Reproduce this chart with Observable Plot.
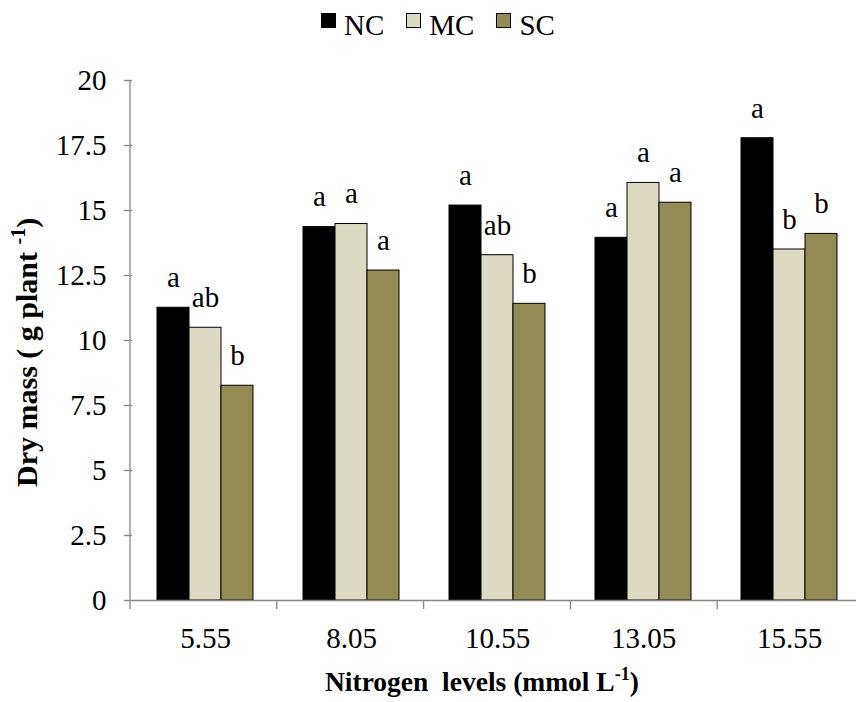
<!DOCTYPE html>
<html><head><meta charset="utf-8">
<script src="https://cdn.jsdelivr.net/npm/d3@7"></script>
<script src="https://cdn.jsdelivr.net/npm/@observablehq/plot@0.6"></script>
<style>
body{margin:0;background:#fff;font-family:"Liberation Serif","Times New Roman",serif;overflow:hidden}
#legend{height:45px;width:856px;box-sizing:border-box;padding-top:11px;padding-left:20px;display:flex;justify-content:center;align-items:flex-start}
.item{display:flex;align-items:flex-start;margin-right:22px}
.item:last-child{margin-right:0}
.sw{width:15px;height:15px;box-sizing:border-box;border:1px solid #000;margin-top:2px;margin-right:8px}
.lab{font-size:29px;line-height:29px;color:#000}
#chart svg{display:block}
</style></head><body>
<div id="legend"></div><div id="chart"></div>
<script>
const groups = ["5.55", "8.05", "10.55", "13.05", "15.55"];
const series = ["NC", "MC", "SC"];
const NC = [11.26, 14.36, 15.19, 13.95, 17.78];
const MC = [10.49, 14.48, 13.28, 16.06, 13.5];
const SC = [8.26, 12.69, 11.41, 15.30, 14.10];
const NCsig = ["a", "a", "a", "a", "a"];
const MCsig = ["ab", "a", "ab", "a", "b"];
const SCsig = ["b", "a", "b", "a", "b"];
const yTicks = [0, 2.5, 5, 7.5, 10, 12.5, 15, 17.5, 20];
const colors = ["#000000", "#DDD9C3", "#948A54"];
const yTitle = "Dry mass ( g plant ";
const xTitle = "Nitrogen  levels (mmol L";

const values = [NC, MC, SC];
const sigs = [NCsig, MCsig, SCsig];
const data = groups.flatMap((g, i) => series.map((s, j) => ({group: g, series: s, value: values[j][i], sig: sigs[j][i]})));

// legend
const leg = d3.select("#legend");
series.forEach((s, j) => {
  const it = leg.append("div").attr("class", "item");
  it.append("div").attr("class", "sw").style("background", colors[j]);
  it.append("span").attr("class", "lab").text(s);
});

const FONT = "'Liberation Serif', 'Times New Roman', serif";
const chart = Plot.plot({
  width: 856, height: 657,
  marginTop: 35, marginBottom: 102, marginLeft: 130, marginRight: -8,
  style: {fontFamily: FONT, fontSize: "29px", color: "black", background: "white"},
  fx: {domain: groups, padding: 0, label: null},
  x: {domain: series, paddingInner: 0, paddingOuter: 0.743, axis: null},
  y: {domain: [0, 20], axis: null},
  color: {domain: series, range: colors},
  marks: [
    Plot.barY(data, {fx: "group", x: "series", y: "value", fill: "series", stroke: "black", strokeWidth: 1}),
    Plot.text(data, {fx: "group", x: "series", y: "value", text: "sig", dy: -30, fontSize: 29, fill: "black", fontFamily: FONT}),
    Plot.ruleY([0], {stroke: "#868686", strokeWidth: 1.3}),
    Plot.axisY({ticks: yTicks, tickSize: 8, tickPadding: 18, stroke: "#868686", strokeWidth: 1.3, fill: "black", fontSize: 29, fontFamily: FONT, tickFormat: d => String(d), label: null}),
    Plot.axisFx({anchor: "bottom", tickSize: 0, tickPadding: 27, fontSize: 29, fontFamily: FONT, label: null, fill: "black"})
  ]
});
document.getElementById("chart").appendChild(chart);

// axis line and group-boundary ticks, from the plot's scales
const fxs = chart.scale("fx"), ysd = chart.scale("y");
const ys = d3.scaleLinear(ysd.domain, ysd.range);
const [fx0, fx1] = fxs.range;
const step = (fx1 - fx0) / groups.length;
const svg = d3.select(chart);
const g = svg.append("g").attr("stroke", "#868686").attr("stroke-width", 1.3);
g.append("line").attr("x1", fx0).attr("x2", fx0).attr("y1", ys(20)).attr("y2", ys(0));
d3.range(groups.length + 1).forEach(k => {
  const x = fx0 + k * step;
  g.append("line").attr("x1", x).attr("x2", x).attr("y1", ys(0)).attr("y2", ys(0) + 9);
});

// axis titles
const xt = svg.append("text").attr("x", 325).attr("y", 646).attr("text-anchor", "start")
  .attr("font-family", FONT).attr("font-size", 27.5).attr("font-weight", "bold")
  .attr("fill", "black").style("white-space", "pre");
xt.append("tspan").text(xTitle);
xt.append("tspan").attr("font-size", 18).attr("dy", -11).text("-1");
xt.append("tspan").attr("dy", 11).text(")");

const yt = svg.append("text").attr("transform", "translate(37,442) rotate(-90)").attr("text-anchor", "start")
  .attr("font-family", FONT).attr("font-size", 30).attr("font-weight", "bold")
  .attr("fill", "black").style("white-space", "pre");
yt.append("tspan").text(yTitle);
yt.append("tspan").attr("font-size", 20).attr("dy", -12).text("-1");
yt.append("tspan").attr("dy", 12).text(")");
</script>
</body></html>
